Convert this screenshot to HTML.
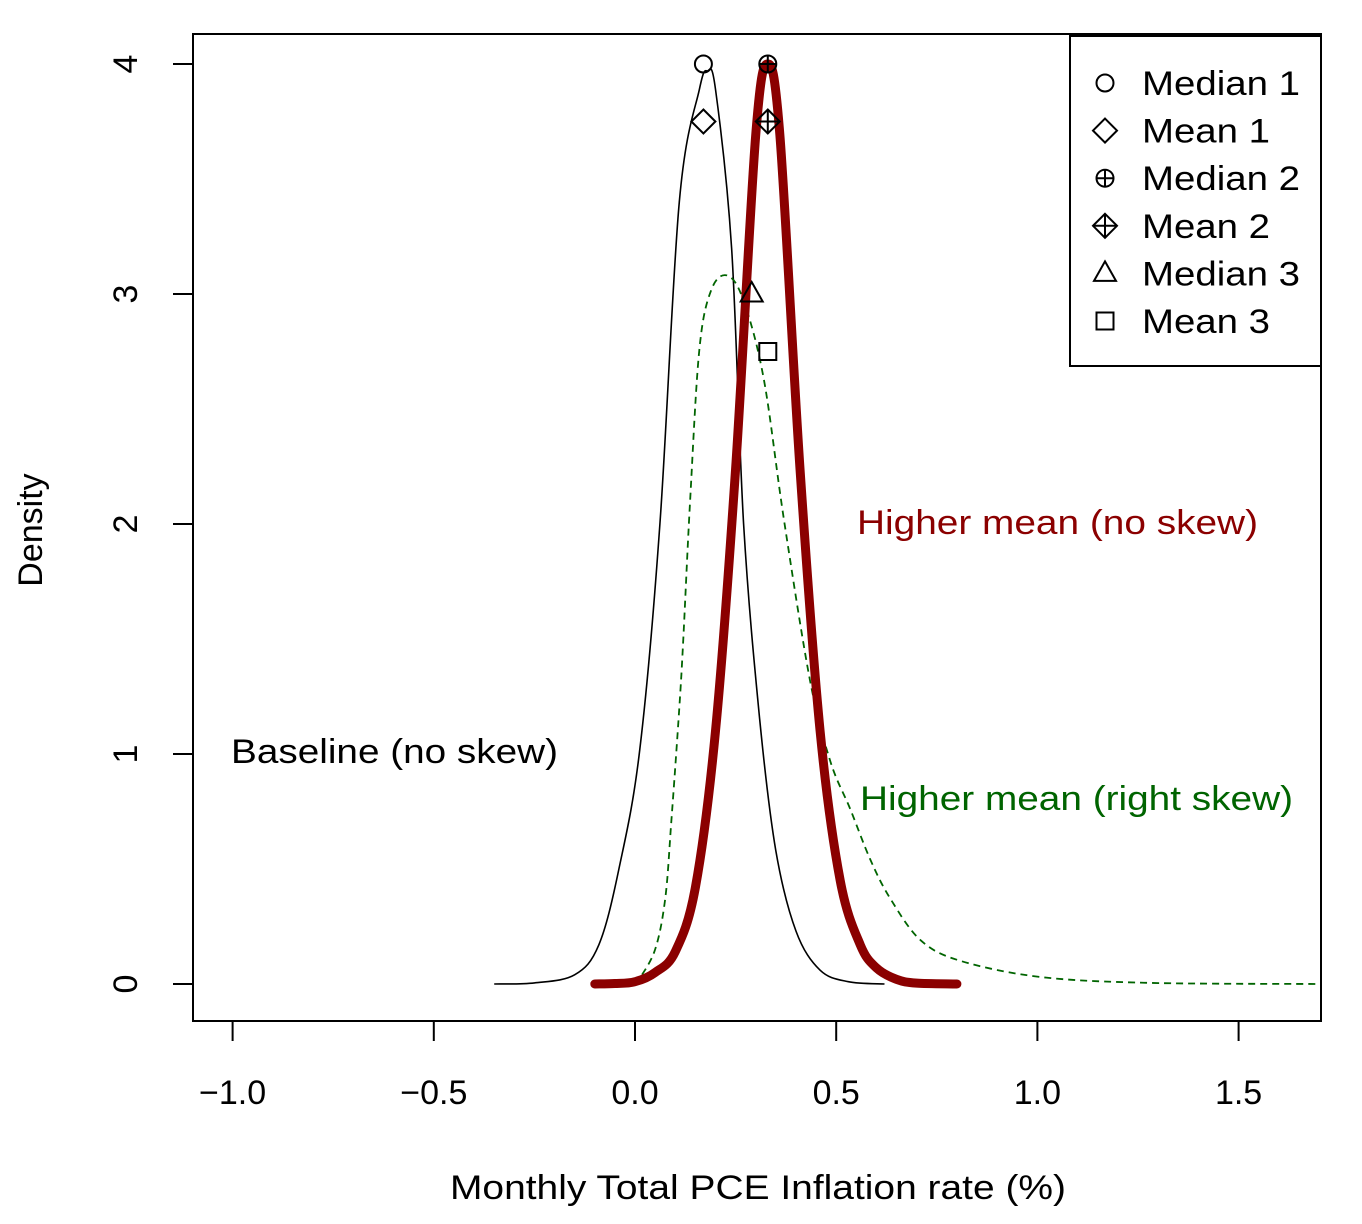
<!DOCTYPE html>
<html><head><meta charset="utf-8"><style>
body{margin:0;background:#fff}
svg{display:block;font-family:"Liberation Sans",Arial,sans-serif}
</style></head><body>
<svg id="chart" width="1362" height="1224" viewBox="0 0 1362 1224" xmlns="http://www.w3.org/2000/svg">
<rect x="0" y="0" width="1362" height="1224" fill="#fff"/>
<g id="plot"></g>
</svg>
<script>
const xTicks=[-1.0,-0.5,0.0,0.5,1.0,1.5];
const xTickLabels=["\u22121.0","\u22120.5","0.0","0.5","1.0","1.5"];
const yTicks=[0,1,2,3,4];
const baseX=[-0.35,-0.25,-0.15,-0.09,-0.04,0.012,0.062,0.11,0.16,0.18,0.2,0.24,0.27,0.31,0.35,0.4,0.46,0.53,0.62];
const baseY=[0,0.005,0.04,0.17,0.5,1.02,2.0,3.4,3.89,3.97,3.89,3.2,2.0,1.15,0.58,0.23,0.06,0.01,0];
const redX=[-0.1,-0.05,0,0.05,0.1,0.15,0.2,0.25,0.3,0.33,0.36,0.41,0.46,0.51,0.56,0.6,0.65,0.7,0.8];
const redY=[0,0.002,0.01,0.05,0.14,0.42,1.1,2.24,3.69,4.0,3.69,2.24,1.1,0.45,0.17,0.07,0.02,0.004,0];
const greenX=[0,0.01,0.05,0.075,0.09,0.11,0.12,0.137,0.16,0.19,0.23,0.27,0.32,0.37,0.435,0.485,0.535,0.585,0.635,0.71,0.81,1.01,1.28,1.7];
const greenY=[0,0.02,0.15,0.37,0.7,1.2,1.5,2.1,2.76,3.02,3.08,2.97,2.63,2.02,1.32,0.97,0.76,0.54,0.37,0.19,0.1,0.03,0.005,0];
const markerNames=["Median 1","Mean 1","Median 2","Mean 2","Median 3","Mean 3"];
const markerX=[0.17,0.17,0.33,0.33,0.29,0.33];
const markerY=[4.0,3.75,4.0,3.75,3.0,2.75];
const markerShapes=["circle","diamond","circleplus","diamondplus","triangle","square"];

const NS="http://www.w3.org/2000/svg";
const g=document.getElementById('plot');
const X0=635, XS=402.4, Y0=984, YS=230;
const sx=v=>X0+v*XS, sy=v=>Y0-v*YS;
function mk(tag,attrs,parent){const e=document.createElementNS(NS,tag);for(const k in attrs)e.setAttribute(k,attrs[k]);(parent||g).appendChild(e);return e;}
function txt(s,attrs,len,parent){const t=mk('text',attrs,parent);t.textContent=s;if(len){t.setAttribute('textLength',len);t.setAttribute('lengthAdjust','spacingAndGlyphs');}return t;}

let e=mk('rect',{x:193,y:34,width:1128,height:987,fill:'none',stroke:'#000','stroke-width':2});



xTicks.forEach((t,i)=>{
  let l=mk('line',{x1:sx(t),x2:sx(t),y1:1021,y2:1041,stroke:'#000','stroke-width':2});
  
  
  let tx=txt(xTickLabels[i],{x:sx(t),y:1104,'font-size':34,'text-anchor':'middle'});
  
  
});
yTicks.forEach(t=>{
  let l=mk('line',{x1:173,x2:193,y1:sy(t),y2:sy(t),stroke:'#000','stroke-width':2});
  
  
  let tx=txt(String(t),{x:137,y:sy(t),'font-size':34,'text-anchor':'middle',transform:`rotate(-90 137 ${sy(t)})`});
  
  
});
let xt=txt('Monthly Total PCE Inflation rate (%)',{x:450,y:1199,'font-size':34},616);


let yt=txt('Density',{x:42,y:530,'font-size':34,'text-anchor':'middle',transform:'rotate(-90 42 530)'});



function path(xs,ys){
  const p=xs.map((v,i)=>[sx(v),sy(ys[i])]);
  let d='M'+p[0][0].toFixed(1)+' '+p[0][1].toFixed(1);
  for(let i=0;i<p.length-1;i++){
    const p0=p[Math.max(0,i-1)],p1=p[i],p2=p[i+1],p3=p[Math.min(p.length-1,i+2)];
    const c1=[p1[0]+(p2[0]-p0[0])/6,p1[1]+(p2[1]-p0[1])/6];
    const c2=[p2[0]-(p3[0]-p1[0])/6,p2[1]-(p3[1]-p1[1])/6];
    d+=` C${c1[0].toFixed(1)} ${c1[1].toFixed(1)} ${c2[0].toFixed(1)} ${c2[1].toFixed(1)} ${p2[0].toFixed(1)} ${p2[1].toFixed(1)}`;
  }
  return d;
}
let pb=mk('path',{d:path(baseX,baseY),fill:'none',stroke:'#000','stroke-width':1.6});


let pg=mk('path',{d:path(greenX,greenY),fill:'none',stroke:'#006400','stroke-width':1.8,'stroke-dasharray':'7 5'});


let pr=mk('path',{d:path(redX,redY),fill:'none',stroke:'#8B0000','stroke-width':9,'stroke-linejoin':'round','stroke-linecap':'round'});



function marker(shape,cx,cy,parent,r){
  const gg=mk('g',{fill:'none',stroke:'#000','stroke-width':2},parent);
  if(shape==='circle'||shape==='circleplus'){mk('circle',{cx,cy,r:r*0.85},gg);}
  if(shape==='circleplus'){mk('path',{d:`M${cx-r*0.85} ${cy}H${cx+r*0.85}M${cx} ${cy-r*0.85}V${cy+r*0.85}`},gg);}
  if(shape==='diamond'||shape==='diamondplus'){mk('path',{d:`M${cx} ${cy-r*1.2}L${cx+r*1.2} ${cy}L${cx} ${cy+r*1.2}L${cx-r*1.2} ${cy}Z`},gg);}
  if(shape==='diamondplus'){mk('path',{d:`M${cx-r*1.2} ${cy}H${cx+r*1.2}M${cx} ${cy-r*1.2}V${cy+r*1.2}`},gg);}
  if(shape==='triangle'){mk('path',{d:`M${cx} ${cy-r*1.2}L${cx+r*1.1} ${cy+r*0.75}L${cx-r*1.1} ${cy+r*0.75}Z`},gg);}
  if(shape==='square'){mk('rect',{x:cx-r*0.85,y:cy-r*0.85,width:r*1.7,height:r*1.7},gg);}
  return gg;
}
markerNames.forEach((n,i)=>{
  const m=marker(markerShapes[i],sx(markerX[i]),sy(markerY[i]),g,10);
  
  
});

let l1=txt('Higher mean (no skew)',{x:857,y:534,'font-size':34,fill:'#8B0000'},401);


let l2=txt('Baseline (no skew)',{x:231,y:763,'font-size':34,fill:'#000'},327);


let l3=txt('Higher mean (right skew)',{x:860,y:810,'font-size':34,fill:'#006400'},433);



const leg=mk('g',{});


mk('rect',{x:1070,y:36,width:251,height:330,fill:'#fff',stroke:'#000','stroke-width':2},leg);
const legLens=[158,128,158,128,158,128];
markerNames.forEach((n,i)=>{
  const yy=83+i*47.6;
  const m=marker(markerShapes[i],1105,yy,leg,10);
  
  
  const t=txt(n,{x:1142,y:yy+12,'font-size':34},legLens[i],leg);
  
  
});
</script>
</body></html>
